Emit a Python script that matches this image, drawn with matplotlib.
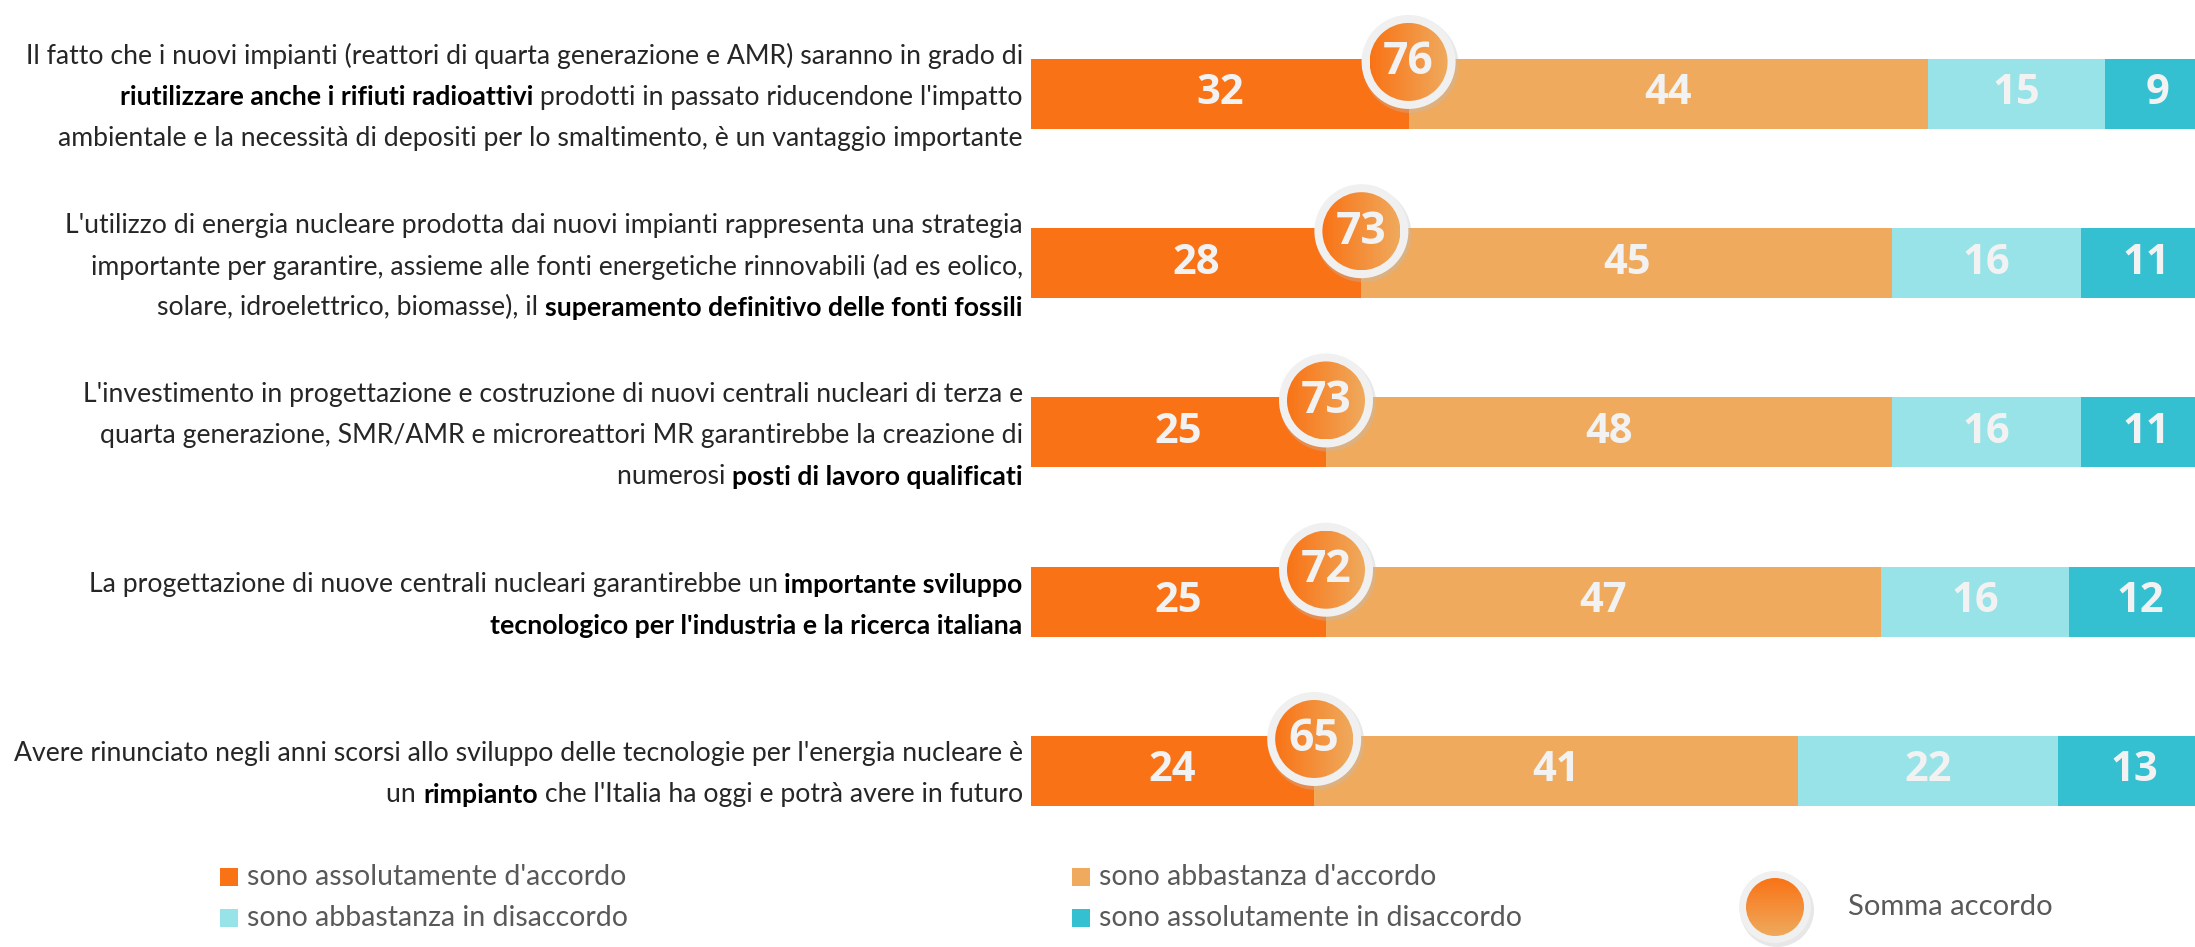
import numpy as np
import matplotlib
matplotlib.use("Agg")
import matplotlib.pyplot as plt
from matplotlib.colors import LinearSegmentedColormap
from matplotlib.patches import Circle, Rectangle

# =========================
# Data
# =========================
series_names = ["sono assolutamente d'accordo", "sono abbastanza d'accordo",
                "sono abbastanza in disaccordo", "sono assolutamente in disaccordo"]
assolutamente_accordo = [32, 28, 25, 25, 24]
abbastanza_accordo = [44, 45, 48, 47, 41]
abbastanza_disaccordo = [15, 16, 16, 16, 22]
assolutamente_disaccordo = [9, 11, 11, 12, 13]
sum_label = "Somma accordo"

# each label = list of lines, each line = list of (text, bold)
labels = [
    [[("Il fatto che i nuovi impianti (reattori di quarta generazione e AMR) saranno in grado di", False)],
     [("riutilizzare anche i rifiuti radioattivi", True), (" prodotti in passato riducendone l'impatto", False)],
     [("ambientale e la necessità di depositi per lo smaltimento, è un vantaggio importante", False)]],
    [[("L'utilizzo di energia nucleare prodotta dai nuovi impianti rappresenta una strategia", False)],
     [("importante per garantire, assieme alle fonti energetiche rinnovabili (ad es eolico,", False)],
     [("solare, idroelettrico, biomasse), il ", False), ("superamento definitivo delle fonti fossili", True)]],
    [[("L'investimento in progettazione e costruzione di nuovi centrali nucleari di terza e", False)],
     [("quarta generazione, SMR/AMR e microreattori MR garantirebbe la creazione di", False)],
     [("numerosi ", False), ("posti di lavoro qualificati", True)]],
    [[("La progettazione di nuove centrali nucleari garantirebbe un ", False), ("importante sviluppo", True)],
     [("tecnologico per l'industria e la ricerca italiana", True)]],
    [[("Avere rinunciato negli anni scorsi allo sviluppo delle tecnologie per l'energia nucleare è", False)],
     [("un ", False), ("rimpianto", True), (" che l'Italia ha oggi e potrà avere in futuro", False)]],
]

colors = ["#F97316", "#EFAA5D", "#97E3E7", "#35C0D1"]
num_color = "#F2F2F2"
label_font = ["Lato", "DejaVu Sans"]
num_font = ["Open Sans", "DejaVu Sans"]

W, H = 2195, 947
fig = plt.figure(figsize=(W / 100, H / 100), dpi=100)

# =========================
# Bars
# =========================
ax = fig.add_axes([1031 / W, 0, 1180 / W, 1])
ax.set_xlim(0, 100)
ax.set_ylim(5.04, -0.555)
ax.axis("off")

rows = np.arange(len(labels))
series = [assolutamente_accordo, abbastanza_accordo, abbastanza_disaccordo, assolutamente_disaccordo]
left = np.zeros(len(rows))
for vals, col, name in zip(series, colors, series_names):
    vals = np.array(vals)
    ax.barh(rows, vals, left=left, height=0.414, color=col, label=name)
    for r, v, l in zip(rows, vals, left):
        ax.text(l + v / 2, r, str(v), ha="center", va="center", color=num_color,
                fontsize=30, fontweight="bold", family=num_font)
    left = left + vals

# =========================
# Row labels (mixed bold / regular)
# =========================
line_gap = 0.242
ytrans = ax.get_yaxis_transform()
for r, lines in zip(rows, labels):
    n = len(lines)
    for i, parts in enumerate(lines):
        y = r + (i - (n - 1) / 2) * line_gap + 0.02
        prev = None
        for txt, bold in reversed(parts):
            kw = dict(fontsize=19.2, family=label_font, ha="right", va="center",
                      fontweight="bold" if bold else "normal",
                      color="#000000" if bold else "#262626")
            if prev is None:
                prev = ax.text(-0.007, y, txt, transform=ytrans, **kw)
            else:
                prev = ax.annotate(txt, xy=(0, 0.5), xycoords=prev, **kw)

# =========================
# Overlay in pixel coords: circles + legend
# =========================
lax = fig.add_axes([0, 0, 1, 1])
lax.set_xlim(0, W)
lax.set_ylim(H, 0)
lax.axis("off")

cmap = LinearSegmentedColormap.from_list("og", [colors[0], colors[1]])


def badge(cx, cy, r_out, r_in, text=None, vertical=False, fs=32):
    lax.add_patch(Circle((cx + 2, cy + 3), r_out + 1, color="#BDBDBD", alpha=0.35, lw=0, zorder=2))
    lax.add_patch(Circle((cx, cy), r_out, color="#F0F0F0", lw=0, zorder=3))
    inner = Circle((cx, cy), r_in, color="none", lw=0, zorder=4)
    lax.add_patch(inner)
    grad = np.linspace(0, 1, 256)
    grad = grad[:, None] if vertical else grad[None, :]
    im = lax.imshow(grad, cmap=cmap, extent=(cx - r_in, cx + r_in, cy + r_in, cy - r_in),
                    interpolation="bilinear", aspect="auto", zorder=5)
    im.set_clip_path(inner)
    if text is not None:
        lax.text(cx, cy + 1, text, ha="center", va="center", color=num_color,
                 fontsize=fs, fontweight="bold", family=num_font, zorder=6)


fig.canvas.draw()
sums = np.array(assolutamente_accordo) + np.array(abbastanza_accordo)
for r, a, s in zip(rows, assolutamente_accordo, sums):
    dx, dy = ax.transData.transform((a, r))
    badge(dx, H - dy - 32, 47, 39, str(s))

# legend
leg_pos = [(220, 877), (1072, 877), (220, 918), (1072, 918)]
for (lx, ly), col, name in zip(leg_pos, colors, series_names):
    lax.add_patch(Rectangle((lx, ly - 9), 18, 18, color=col, lw=0))
    lax.text(lx + 27, ly, name, ha="left", va="center", fontsize=20.5,
             family=label_font, color="#595959")

badge(1775, 907, 36, 29, vertical=True)
lax.text(1848, 907, sum_label, ha="left", va="center", fontsize=21,
         family=label_font, color="#595959")
lax.set_xlim(0, W)
lax.set_ylim(H, 0)

fig.savefig("out.png", dpi=100)
